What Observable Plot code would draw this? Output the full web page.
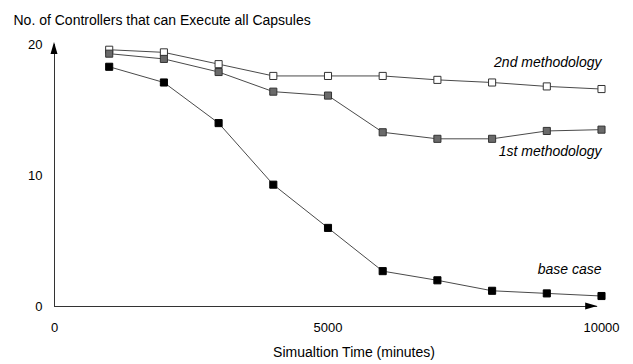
<!DOCTYPE html>
<html>
<head>
<meta charset="utf-8">
<script src="https://cdn.jsdelivr.net/npm/d3@7"></script>
<script src="https://cdn.jsdelivr.net/npm/@observablehq/plot@0.6"></script>
<style>
  body { margin: 0; background: #fff; }
  #chart svg { display: block; }
</style>
</head>
<body>
<div id="chart"></div>
<script>
const times = [1000, 2000, 3000, 4000, 5000, 6000, 7000, 8000, 9000, 10000];
const secondMethodology = [19.6, 19.4, 18.5, 17.6, 17.6, 17.6, 17.3, 17.1, 16.8, 16.6];
const firstMethodology  = [19.3, 18.9, 17.9, 16.4, 16.1, 13.3, 12.8, 12.8, 13.4, 13.5];
const baseCase          = [18.3, 17.1, 14.0, 9.3, 6.0, 2.7, 2.0, 1.2, 1.0, 0.8];
const seriesNames = ["2nd methodology", "1st methodology", "base case"];
const xTicks = [0, 5000, 10000];
const yTicks = [0, 10, 20];
const titleText = "No. of Controllers that can Execute all Capsules";
const xTitle = "Simualtion Time (minutes)";
const xAxisEnd = [9930];
const yAxisEnd = [20];

const rows = [];
[secondMethodology, firstMethodology, baseCase].forEach((vals, i) => {
  vals.forEach((v, j) => rows.push({series: seriesNames[i], t: times[j], v}));
});
const fills = {"2nd methodology": "#ffffff", "1st methodology": "#6a6a6a", "base case": "#000000"};
const labelRows = [
  {series: "2nd methodology", t: 10000, v: 18.6},
  {series: "1st methodology", t: 10000, v: 11.8},
  {series: "base case", t: 10000, v: 2.8}
];

const font = "'Liberation Sans', Arial, Helvetica, sans-serif";

const plot = Plot.plot({
  width: 633,
  height: 364,
  marginLeft: 54,
  marginRight: 32,
  marginTop: 44,
  marginBottom: 58,
  style: {fontFamily: font, fontSize: "13px", color: "#000", background: "#fff"},
  x: {domain: [0, 10000]},
  y: {domain: [0, 20]},
  marks: [
    Plot.ruleY([0], {x1: 0, x2: xAxisEnd[0], stroke: "#333", strokeWidth: 1}),
    Plot.ruleX([0], {y1: 0, y2: yAxisEnd[0], stroke: "#333", strokeWidth: 1}),
    Plot.axisX({ticks: xTicks, tickSize: 0, tickPadding: 16, tickFormat: d => String(d), label: null, fontSize: 13}),
    Plot.axisY({ticks: yTicks, tickSize: 0, tickPadding: 12, tickFormat: d => String(d), label: null, fontSize: 13}),
    Plot.line(rows, {x: "t", y: "v", z: "series", stroke: "#4a4a4a", strokeWidth: 1}),
    Plot.dot(rows, {x: "t", y: "v", symbol: "square", r: 4, fill: d => fills[d.series], stroke: d => d.series === "base case" ? "#000" : "#333", strokeWidth: 1}),
    Plot.text(labelRows, {x: "t", y: "v", text: "series", textAnchor: "end", fontStyle: "italic", fontSize: 14, fill: "#000"}),
    Plot.text([titleText], {frameAnchor: "top-left", dx: -41, dy: -29, textAnchor: "start", fontSize: 14, fill: "#000"}),
    Plot.text([xTitle], {frameAnchor: "bottom", dx: 26, dy: 50, fontSize: 14, fill: "#000"})
  ]
});

// filled arrowheads at the axis ends, positioned with the plot's scales
const sx = plot.scale("x"), sy = plot.scale("y");
const svg = d3.select(plot);
const yx = sx.apply(0), yy = sy.apply(yAxisEnd[0]);
svg.append("polygon")
  .attr("points", `${yx},${yy - 2} ${yx - 3.5},${yy + 10} ${yx + 3.5},${yy + 10}`)
  .attr("fill", "#000");
const xx = sx.apply(xAxisEnd[0]), xy = sy.apply(0);
svg.append("polygon")
  .attr("points", `${xx},${xy} ${xx - 12},${xy - 3.5} ${xx - 12},${xy + 3.5}`)
  .attr("fill", "#000");

document.getElementById("chart").appendChild(plot);
</script>
</body>
</html>
